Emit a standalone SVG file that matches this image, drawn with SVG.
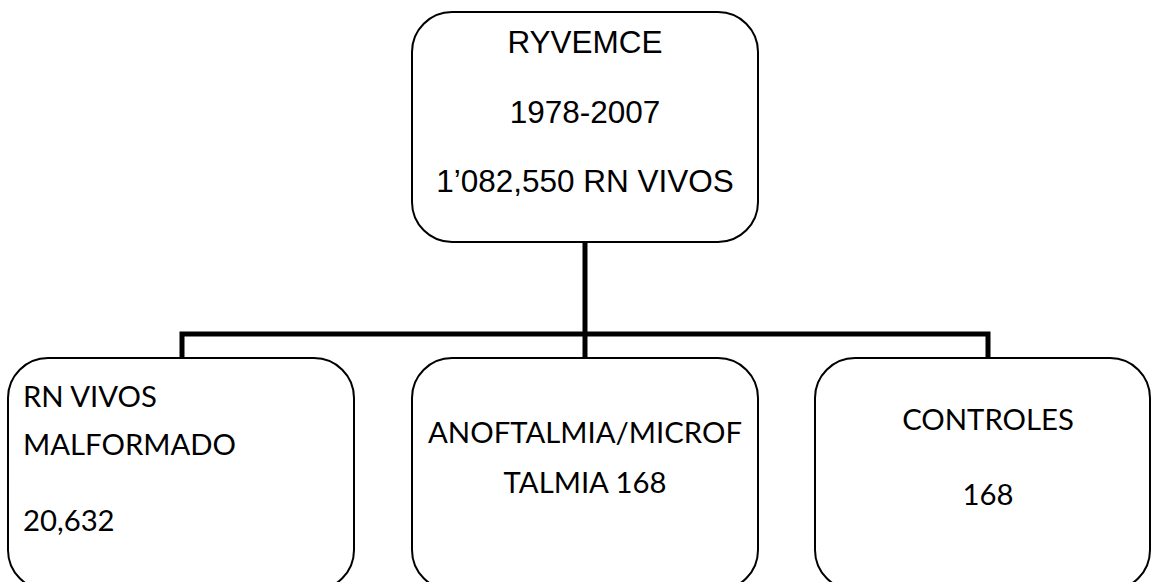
<svg xmlns="http://www.w3.org/2000/svg" width="1154" height="582" viewBox="0 0 1154 582">
<style>
.box{fill:#fff;stroke:#000;stroke-width:2}
.conn{fill:none;stroke:#000;stroke-width:5}
.a{font-family:"Liberation Sans",Arial,sans-serif;font-size:31.5px;fill:#000}
.c{font-family:Lato,"Open Sans",sans-serif;font-size:29.3px;fill:#000}
</style>
<rect width="1154" height="582" fill="#fff"/>
<g id="connectors">
<path class="conn" d="M585 242V358"/>
<path class="conn" d="M182 358V334H988V358"/>
</g>
<g id="top">
<rect class="box" x="412" y="12" width="346" height="230" rx="40"/>
<text class="a" x="585" y="53" text-anchor="middle">RYVEMCE</text>
<text class="a" x="585" y="123" text-anchor="middle">1978-2007</text>
<text class="a" x="585" y="192" text-anchor="middle">1’082,550 RN VIVOS</text>
</g>
<g id="left">
<rect class="box" x="8" y="358" width="346" height="232" rx="40"/>
<text class="c" x="23" y="407">RN VIVOS</text>
<text class="c" x="23" y="455">MALFORMADO</text>
<text class="c" x="23" y="531">20,632</text>
</g>
<g id="middle">
<rect class="box" x="412" y="358" width="346" height="232" rx="40"/>
<text class="c" x="585" y="443" text-anchor="middle">ANOFTALMIA/MICROF</text>
<text class="c" x="585" y="493" text-anchor="middle">TALMIA 168</text>
</g>
<g id="right">
<rect class="box" x="815" y="358" width="335" height="232" rx="40"/>
<text class="c" x="988" y="430" text-anchor="middle">CONTROLES</text>
<text class="c" x="988" y="505" text-anchor="middle">168</text>
</g>
</svg>
